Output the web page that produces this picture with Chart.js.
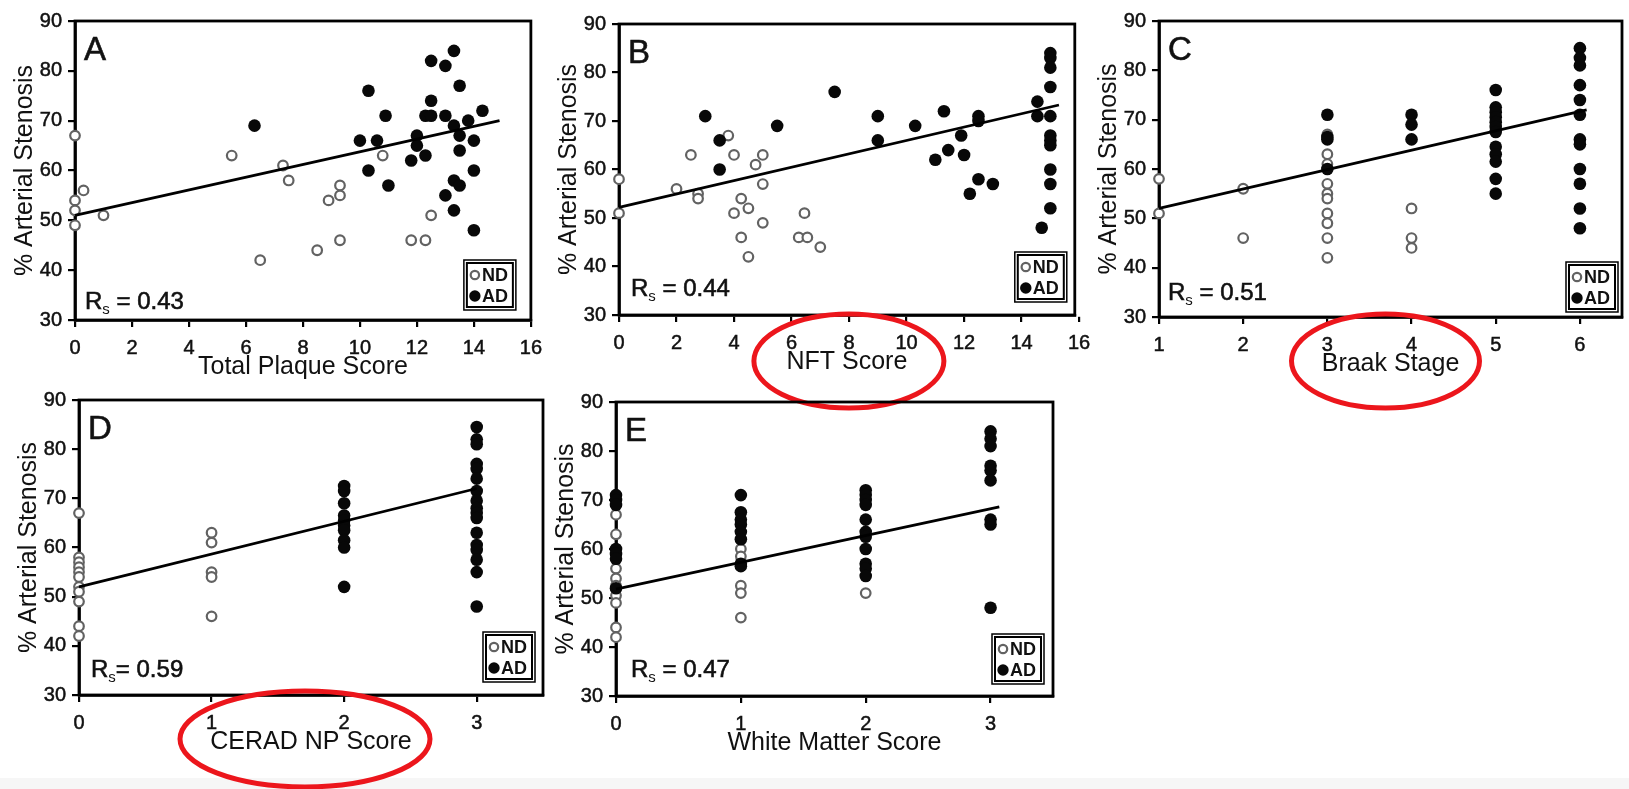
<!DOCTYPE html>
<html>
<head>
<meta charset="utf-8">
<script src="https://cdn.jsdelivr.net/npm/chart.js@4.4.1/dist/chart.umd.min.js"></script>
<style>
  html, body { margin: 0; padding: 0; }
  body {
    width: 1629px; height: 789px; position: relative; overflow: hidden;
    background: linear-gradient(#fff 0, #fff 778px, #f6f6f6 778px);
  }
  canvas { position: absolute; }
</style>
</head>
<body>
<canvas id="chartA"></canvas>
<canvas id="chartB"></canvas>
<canvas id="chartC"></canvas>
<canvas id="chartD"></canvas>
<canvas id="chartE"></canvas>
<script>
// shared axis
const yTicks = [30, 40, 50, 60, 70, 80, 90];
const yTitle = "% Arterial Stenosis";
const groupLabels = ["ND", "AD"];

// A - total plaque score
const aXTicks = [0, 2, 4, 6, 8, 10, 12, 14, 16];
const aNdX = [0, 0, 0, 0, 0.3, 1, 5.5, 6.5, 7.3, 7.5, 8.5, 8.9, 9.3, 9.3, 9.3, 10.8, 11.8, 12.3, 12.5];
const aNdY = [67, 54, 52, 49, 56, 51, 63, 42, 61, 58, 44, 54, 57, 55, 46, 63, 46, 46, 51];
const aAdX = [6.3, 10, 10.3, 10.3, 10.6, 10.9, 11, 11.8, 12, 12, 12.3, 12.3, 12.5, 12.5, 12.5, 13, 13, 13,
  13.3, 13.3, 13.3, 13.3, 13.5, 13.5, 13.5, 13.5, 13.8, 14, 14, 14, 14.3];
const aAdY = [69, 66, 76, 60, 66, 71, 57, 62, 67, 65, 63, 71, 82, 74, 71, 81, 71, 55,
  84, 69, 58, 52, 77, 67, 64, 57, 70, 66, 60, 48, 72];
const aFitX = [0, 14.9];
const aFitY = [51, 70];

// B - NFT score
const bXTicks = [0, 2, 4, 6, 8, 10, 12, 14, 16];
const bNdX = [0, 0, 2, 2.5, 2.75, 2.75, 3.8, 4, 4, 4.25, 4.25, 4.5, 4.5, 4.75, 5, 5, 5, 6.25, 6.45, 6.55, 7];
const bNdY = [58, 51, 56, 63, 55, 54, 67, 63, 51, 54, 46, 52, 42, 61, 63, 57, 49, 46, 51, 46, 44];
const bAdX = [3, 3.5, 3.5, 5.5, 7.5, 9, 9, 10.3, 11, 11.3, 11.45, 11.9, 12, 12.2, 12.5, 12.5, 12.5, 13,
  14.55, 14.55, 14.7, 15, 15, 15, 15, 15, 15, 15, 15, 15, 15, 15];
const bAdY = [71, 66, 60, 69, 76, 71, 66, 69, 62, 72, 64, 67, 63, 55, 71, 70, 58, 57,
  74, 71, 48, 84, 83, 81, 77, 71, 67, 66, 65, 60, 57, 52];
const bFitX = [0, 15.3];
const bFitY = [52.2, 73.3];

// C - Braak stage
const cXTicks = [1, 2, 3, 4, 5, 6];
const cNdX = [1, 1, 2, 2, 3, 3, 3, 3, 3, 3, 3, 3, 3, 3, 4, 4, 4];
const cNdY = [58, 51, 56, 46, 67, 63, 61, 57, 55, 54, 51, 49, 46, 42, 52, 46, 44];
const cAdX = [3, 3, 3, 3, 4, 4, 4, 5, 5, 5, 5, 5, 5, 5, 5, 5, 5, 5, 5,
  6, 6, 6, 6, 6, 6, 6, 6, 6, 6, 6, 6];
const cAdY = [71, 66.5, 66, 60, 71, 69, 66, 76, 72.5, 71.5, 70.5, 69.5, 68.5, 67.5, 64.5, 63, 61.5, 58, 55,
  84.5, 82.5, 81, 77, 74, 71, 66, 65, 60, 57, 52, 48];
const cFitX = [1, 6.08];
const cFitY = [52, 72];

// D - CERAD NP score
const dXTicks = [0, 1, 2, 3];
const dNdX = [0, 0, 0, 0, 0, 0, 0, 0, 0, 0, 0, 1, 1, 1, 1, 1];
const dNdY = [67, 58, 57, 56, 55, 54, 52, 51, 49, 44, 42, 63, 61, 55, 54, 46];
const dAdX = [2, 2, 2, 2, 2, 2, 2, 2, 2, 2,
  3, 3, 3, 3, 3, 3, 3, 3, 3, 3, 3, 3, 3, 3, 3, 3, 3];
const dAdY = [72.5, 71.5, 69, 66.5, 65.5, 64.5, 63.5, 61.5, 60, 52,
  84.5, 82, 81, 77, 76, 74, 71.5, 69.5, 68, 67, 66, 63, 60.5, 59.5, 57.5, 55, 48];
const dFitX = [0, 3];
const dFitY = [52, 72];

// E - white matter score
const eXTicks = [0, 1, 2, 3];
const eNdX = [0, 0, 0, 0, 0, 0, 0, 0, 0, 0, 1, 1, 1, 1, 1, 2];
const eNdY = [67, 63, 59, 56, 54, 52.5, 50.5, 49, 44, 42, 60, 58.5, 52.5, 51, 46, 51];
const eAdX = [0, 0, 0, 0, 0, 0, 0, 1, 1, 1, 1, 1, 1, 1, 1,
  2, 2, 2, 2, 2, 2, 2, 2, 2, 2, 2, 3, 3, 3, 3, 3, 3, 3, 3, 3];
const eAdY = [71, 70, 69, 60, 59, 58, 52, 71, 67.5, 66, 65, 63.5, 62, 57, 56.5,
  72, 71, 70, 69, 66, 63.5, 62.5, 60, 57, 56, 54.5, 84, 82.5, 81, 77, 76, 74, 66, 65, 48];
const eFitX = [0, 3.07];
const eFitY = [51.8, 68.6];

const FONT = "'Liberation Sans', Arial, sans-serif";
const INK = "#111";
const Y_AXIS_W = 69;
const X_AXIS_H = 66;
const TOP_PAD = 12;

function toPoints(xs, ys) {
  return xs.map((x, i) => ({ x: x, y: ys[i] }));
}

// frame, panel letter, R_s label, inset legend and the red marking ellipse
const panelDecor = {
  id: "panelDecor",
  beforeDatasetsDraw(chart) {
    const a = chart.chartArea, ctx = chart.ctx;
    ctx.save();
    ctx.strokeStyle = "#000";
    ctx.lineWidth = 2.8;
    ctx.strokeRect(a.left, a.top, a.right - a.left, a.bottom - a.top);
    ctx.restore();
  },
  afterDatasetsDraw(chart, args, o) {
    const a = chart.chartArea, ctx = chart.ctx;
    ctx.save();
    ctx.fillStyle = INK;
    ctx.strokeStyle = INK;
    ctx.textBaseline = "alphabetic";
    ctx.textAlign = "left";

    ctx.font = "33px " + FONT;
    ctx.lineWidth = 0.6;
    ctx.fillText(o.letter, a.left + 9, a.top + 39);
    ctx.strokeText(o.letter, a.left + 9, a.top + 39);

    let x = a.left + o.rsDx;
    const y = a.bottom - o.rsDy;
    ctx.font = "24px " + FONT;
    ctx.fillText("R", x, y);
    ctx.strokeText("R", x, y);
    x += ctx.measureText("R").width;
    ctx.font = "15px " + FONT;
    ctx.fillText("s", x, y + 5);
    x += ctx.measureText("s").width;
    ctx.font = "24px " + FONT;
    ctx.fillText(o.rsText, x, y);
    ctx.strokeText(o.rsText, x, y);

    // legend box
    const w = 52, h = 50;
    const bx = a.right - o.legR - w, by = a.bottom - o.legB - h;
    ctx.fillStyle = "#fff";
    ctx.fillRect(bx, by, w, h);
    ctx.strokeStyle = "#000";
    ctx.lineWidth = 1.5;
    ctx.strokeRect(bx, by, w, h);
    ctx.lineWidth = 2;
    ctx.strokeRect(bx + 3, by + 3, w - 6, h - 6);
    const rows = [chart.data.datasets[2], chart.data.datasets[1]];
    ctx.font = "bold 18px " + FONT;
    ctx.textBaseline = "middle";
    rows.forEach((ds, i) => {
      const ry = by + 15 + i * 21;
      ctx.beginPath();
      ctx.arc(bx + 11, ry, ds.pointRadius - 0.6, 0, Math.PI * 2);
      ctx.fillStyle = ds.backgroundColor;
      ctx.fill();
      if (ds.borderWidth) {
        ctx.lineWidth = ds.borderWidth;
        ctx.strokeStyle = ds.borderColor;
        ctx.stroke();
      }
      ctx.fillStyle = INK;
      ctx.fillText(ds.label, bx + 18, ry + 1);
    });

    if (o.ellipse) {
      const e = o.ellipse;
      ctx.beginPath();
      ctx.ellipse((a.left + a.right) / 2 + e.dx, a.bottom + e.dy, e.rx, e.ry, 0, 0, Math.PI * 2);
      ctx.strokeStyle = "rgb(236, 22, 28)";
      ctx.lineWidth = 5;
      ctx.stroke();
    }
    ctx.restore();
  }
};

function makePanel(id, box, spec) {
  const canvas = document.getElementById(id);
  const rightPad = box.rightPad;
  const extra = box.extra || 0;
  canvas.width = box.right - box.left + Y_AXIS_W + rightPad;
  canvas.height = box.bottom - box.top + TOP_PAD + X_AXIS_H + extra;
  canvas.style.left = (box.left - Y_AXIS_W) + "px";
  canvas.style.top = (box.top - TOP_PAD) + "px";

  const tickFont = { family: FONT, size: 20 };
  const titleFont = { family: FONT, size: 25 };

  const config = {
    type: "scatter",
    data: {
      datasets: [
        {
          label: "fit",
          data: toPoints(spec.fitX, spec.fitY),
          showLine: true,
          borderColor: "#000",
          borderWidth: 2.8,
          pointRadius: 0,
          clip: false,
        },
        {
          label: groupLabels[1],
          data: toPoints(spec.adX, spec.adY),
          backgroundColor: "#080808",
          borderColor: "#080808",
          borderWidth: 0,
          pointRadius: 6.3,
          clip: false,
        },
        {
          label: groupLabels[0],
          data: toPoints(spec.ndX, spec.ndY),
          backgroundColor: "#fff",
          borderColor: "#626262",
          borderWidth: 2.2,
          pointRadius: 4.8,
          clip: false,
        },
      ],
    },
    options: {
      responsive: false,
      animation: false,
      events: [],
      layout: { padding: { top: TOP_PAD, right: rightPad, bottom: extra, left: 0 } },
      scales: {
        x: {
          type: "linear",
          min: spec.xMin,
          max: spec.xMax,
          afterBuildTicks: (s) => { s.ticks = spec.xTicks.map((v) => ({ value: v })); },
          afterFit: (s) => { s.height = X_AXIS_H; },
          ticks: { font: tickFont, color: INK, padding: 9, maxRotation: 0, autoSkip: false,
            textStrokeColor: INK, textStrokeWidth: 0.5 },
          grid: { drawOnChartArea: false, drawTicks: true, tickLength: 7, color: "#000", lineWidth: 2.2 },
          border: { display: true, color: "#000", width: 2.8 },
          title: { display: true, text: spec.xTitle, font: titleFont, color: INK },
        },
        y: {
          type: "linear",
          min: 30,
          max: 90,
          afterBuildTicks: (s) => { s.ticks = yTicks.map((v) => ({ value: v })); },
          afterFit: (s) => { s.width = Y_AXIS_W; },
          ticks: { font: tickFont, color: INK, padding: 6, textStrokeColor: INK, textStrokeWidth: 0.5 },
          grid: { drawOnChartArea: false, drawTicks: true, tickLength: 7, color: "#000", lineWidth: 2.2 },
          border: { display: true, color: "#000", width: 2.8 },
          title: { display: true, text: yTitle, font: titleFont, color: INK },
        },
      },
      plugins: {
        legend: { display: false },
        tooltip: { enabled: false },
        panelDecor: spec.decor,
      },
    },
    plugins: [panelDecor],
  };
  return new Chart(canvas, config);
}

makePanel("chartA", { left: 75, top: 15, right: 537, bottom: 320, rightPad: 14 }, {
  xMin: 0, xMax: 16, xTicks: aXTicks, xTitle: "Total Plaque Score",
  ndX: aNdX, ndY: aNdY, adX: aAdX, adY: aAdY, fitX: aFitX, fitY: aFitY,
  decor: { letter: "A", rsText: " = 0.43", rsDx: 10, rsDy: 11, legR: 15, legB: 10 },
});

makePanel("chartB", { left: 619, top: 18, right: 1075, bottom: 315, rightPad: 24, extra: 45 }, {
  xMin: 0, xMax: 15.85, xTicks: bXTicks, xTitle: "NFT Score",
  ndX: bNdX, ndY: bNdY, adX: bAdX, adY: bAdY, fitX: bFitX, fitY: bFitY,
  decor: { letter: "B", rsText: " = 0.44", rsDx: 12, rsDy: 19, legR: 8, legB: 13,
    ellipse: { dx: 2, dy: 46, rx: 95, ry: 47 } },
});

makePanel("chartC", { left: 1159, top: 15, right: 1622, bottom: 317, rightPad: 7, extra: 45 }, {
  xMin: 1, xMax: 6.5, xTicks: cXTicks, xTitle: "Braak Stage",
  ndX: cNdX, ndY: cNdY, adX: cAdX, adY: cAdY, fitX: cFitX, fitY: cFitY,
  decor: { letter: "C", rsText: " = 0.51", rsDx: 9, rsDy: 17, legR: 4, legB: 5,
    ellipse: { dx: -5, dy: 44, rx: 94, ry: 47 } },
});

makePanel("chartD", { left: 79, top: 394, right: 543, bottom: 695, rightPad: 14, extra: 40 }, {
  xMin: 0, xMax: 3.5, xTicks: dXTicks, xTitle: "CERAD NP Score",
  ndX: dNdX, ndY: dNdY, adX: dAdX, adY: dAdY, fitX: dFitX, fitY: dFitY,
  decor: { letter: "D", rsText: "= 0.59", rsDx: 12, rsDy: 18, legR: 8, legB: 13,
    ellipse: { dx: -6, dy: 44, rx: 125, ry: 48 } },
});

makePanel("chartE", { left: 616, top: 396, right: 1053, bottom: 696, rightPad: 14 }, {
  xMin: 0, xMax: 3.5, xTicks: eXTicks, xTitle: "White Matter Score",
  ndX: eNdX, ndY: eNdY, adX: eAdX, adY: eAdY, fitX: eFitX, fitY: eFitY,
  decor: { letter: "E", rsText: " = 0.47", rsDx: 15, rsDy: 19, legR: 9, legB: 12 },
});
</script>
</body>
</html>
